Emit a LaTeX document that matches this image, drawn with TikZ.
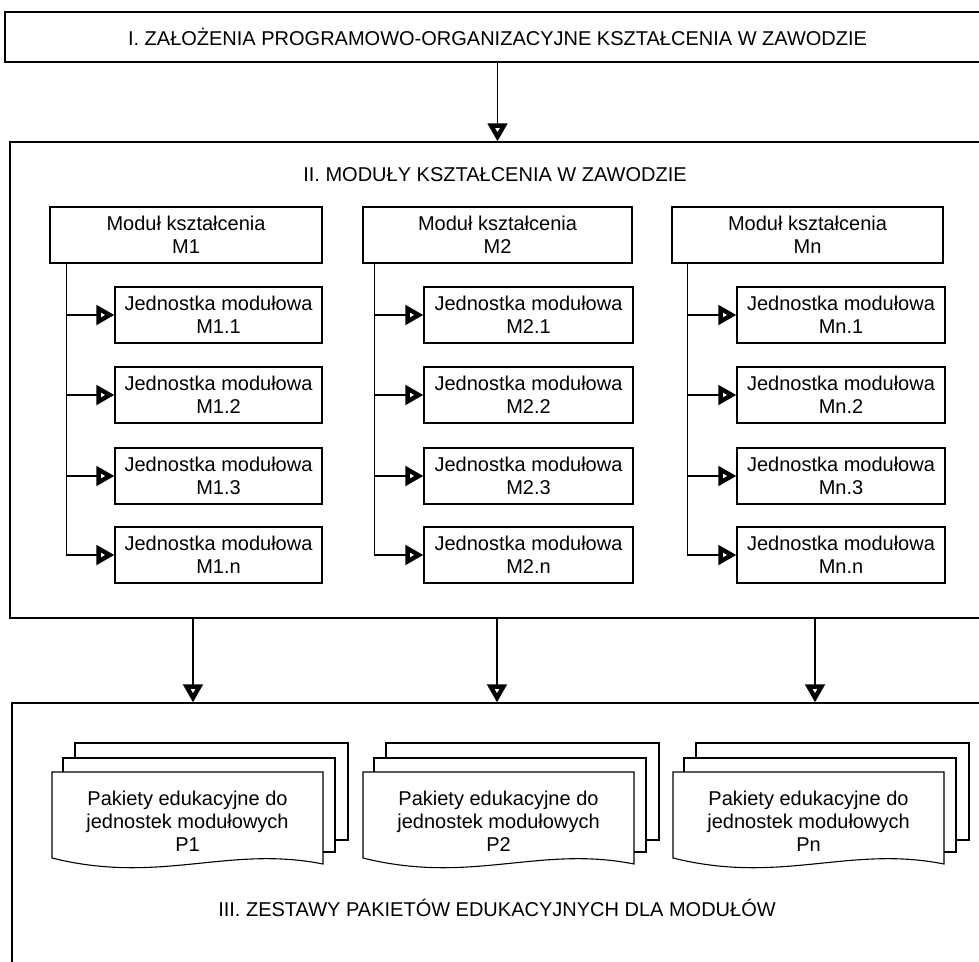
\documentclass[tikz,border=0pt]{standalone}
\usepackage{fontspec}
\setmainfont{Liberation Sans}
\usetikzlibrary{arrows.meta}
\newcommand\mydocstack[3]{%
  \begin{scope}[shift={(#1,0)}]
    \draw (23,758) -- (23,743) -- (296,743) -- (296,840) -- (283,840);
    \draw (11,772) -- (11,758) -- (283,758) -- (283,852) -- (271,852);
    \draw (0,772) -- (271,772) -- (271,864) .. controls (176,845) and (108,885) .. (0,858) -- cycle;
    \node[lbl] (#2) at (135.5,821) {Pakiety edukacyjne do\\jednostek modułowych\\#3};
  \end{scope}}
\begin{document}
\begin{tikzpicture}[x=1pt,y=-1pt,
  font=\fontsize{20}{23}\selectfont,
  line width=1.1pt,
  box/.style={draw, rectangle, inner sep=0pt, align=center},
  modbox/.style={box, minimum height=56pt},
  arr/.style={-{Triangle[open,length=18pt,width=19pt,line width=4.4pt]}},
  lbl/.style={inner sep=0pt, align=center}
]
\useasboundingbox (0,0) rectangle (979,961);
\clip (0,0) rectangle (979,961);
% section frames
\node[box, minimum width=985pt, minimum height=50pt] (top) at (497.5,37) {I. ZAŁOŻENIA PROGRAMOWO-ORGANIZACYJNE KSZTAŁCENIA W ZAWODZIE};
\node[box, minimum width=980pt, minimum height=476pt] (sec2) at (500,380) {};
\node[lbl] (t2) at (495,175) {II. MODUŁY KSZTAŁCENIA W ZAWODZIE};
\node[box, minimum width=978pt, minimum height=272pt] (sec3) at (501,839) {};
\node[lbl] (t3) at (497,908) {III. ZESTAWY PAKIETÓW EDUKACYJNYCH DLA MODUŁÓW};
% modules
\node[modbox, minimum width=272pt] (m1) at (186,235) {Moduł kształcenia\\M1};
\node[modbox, minimum width=269pt] (m2) at (497.5,235) {Moduł kształcenia\\M2};
\node[modbox, minimum width=271pt] (mn) at (807.5,235) {Moduł kształcenia\\Mn};
% units
\foreach \c/\x/\w in {1/218.5/207, 2/528.5/209, n/841/208}{
  \node[modbox, minimum width=\w pt] (j\c1) at (\x,315) {Jednostka modułowa\\M\c.1};
  \node[modbox, minimum width=\w pt] (j\c2) at (\x,395) {Jednostka modułowa\\M\c.2};
  \node[modbox, minimum width=\w pt] (j\c3) at (\x,476) {Jednostka modułowa\\M\c.3};
  \node[modbox, minimum width=\w pt] (j\c4) at (\x,555) {Jednostka modułowa\\M\c.n};
}
\coordinate (v1) at ([xshift=17pt]m1.south west);
\coordinate (v2) at ([xshift=12pt]m2.south west);
\coordinate (vn) at ([xshift=16pt]mn.south west);
\foreach \c in {1,2,n}{
  \foreach \k in {1,2,3,4}{
    \draw[arr] (v\c) |- (j\c\k.west);
  }
}
% documents
\mydocstack{52}{p1}{P1}
\mydocstack{363}{p2}{P2}
\mydocstack{673}{pn}{Pn}
% vertical arrows
\draw[arr] (m2.north |- top.south) -- (m2.north |- sec2.north);
\coordinate (d1) at (193,0);
\coordinate (d2) at (497,0);
\coordinate (d3) at (815,0);
\foreach \d in {d1,d2,d3}{
  \draw[arr] (\d |- sec2.south) -- (\d |- sec3.north);
}
\end{tikzpicture}
\end{document}
